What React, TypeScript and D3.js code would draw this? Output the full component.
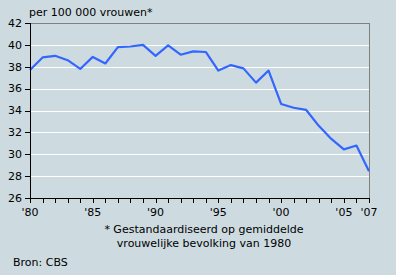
import React from "react";
import * as d3 from "d3";

const years = [1980,1981,1982,1983,1984,1985,1986,1987,1988,1989,1990,1991,1992,1993,1994,1995,1996,1997,1998,1999,2000,2001,2002,2003,2004,2005,2006,2007];
const values = [37.7,38.85,39.0,38.6,37.8,38.9,38.3,39.8,39.85,40.0,39.0,39.95,39.1,39.4,39.35,37.65,38.15,37.85,36.55,37.65,34.6,34.25,34.05,32.6,31.4,30.45,30.8,28.45];
const yTicks = [26,28,30,32,34,36,38,40,42];
const xLabelYears = [1980,1985,1990,1995,2000,2005,2007];
const xLabel = (y: number) => "'" + String(y).slice(2);
const title = "per 100 000 vrouwen*";
const footnote = ["* Gestandaardiseerd op gemiddelde", "vrouwelijke bevolking van 1980"];
const source = "Bron: CBS";

export default function App() {
  const W = 396, H = 275;
  const left = 30, right = 369, top = 23, bottom = 198;
  const x = d3.scaleLinear().domain([1980, 2007]).range([left, right]);
  const y = d3.scaleLinear().domain([26, 42]).range([bottom, top]);
  const line = d3.line<number>().x((_, i) => x(years[i])).y((d) => y(d));
  const font = "'DejaVu Sans', Verdana, sans-serif";
  const bg = "#cddbe0";
  return (
    <div style={{ position: "fixed", left: 0, top: 0 }}>
      <svg width={W} height={H} style={{ display: "block", background: bg }} fontFamily={font} fontSize={11}>
        <rect x={0} y={0} width={W} height={H} fill={bg} />
        {yTicks.filter(t => t > 26 && t < 42).map(t => (
          <line key={t} x1={left} x2={right} y1={Math.round(y(t)) + 0.5} y2={Math.round(y(t)) + 0.5} stroke="#ffffff" strokeWidth={1} />
        ))}
        <line x1={left} x2={right + 0.5} y1={top + 0.5} y2={top + 0.5} stroke="#808080" />
        <line x1={right + 0.5} x2={right + 0.5} y1={top} y2={bottom} stroke="#808080" />
        <path d={line(values) || ""} fill="none" stroke="#3366ff" strokeWidth={2.2} strokeLinejoin="round" />
        <line x1={left + 0.5} x2={left + 0.5} y1={top} y2={bottom + 0.5} stroke="#000" />
        <line x1={left} x2={right + 0.5} y1={bottom + 0.5} y2={bottom + 0.5} stroke="#000" />
        {yTicks.map(t => (
          <g key={t}>
            <line x1={left - 5} x2={left} y1={Math.round(y(t)) + 0.5} y2={Math.round(y(t)) + 0.5} stroke="#000" />
            <text x={left - 8} y={y(t)} dy="0.35em" textAnchor="end" fill="#000">{t}</text>
          </g>
        ))}
        {years.map(yr => (
          <line key={yr} x1={Math.round(x(yr)) + 0.5} x2={Math.round(x(yr)) + 0.5} y1={bottom} y2={bottom + 5} stroke="#000" />
        ))}
        {xLabelYears.map(yr => (
          <text key={yr} x={x(yr)} y={212} dy="0.35em" textAnchor="middle" fill="#000">{xLabel(yr)}</text>
        ))}
        <text x={29} y={12} dy="0.35em" fill="#000">{title}</text>
        {footnote.map((l, i) => (
          <text key={i} x={204} y={229 + i * 14} dy="0.35em" textAnchor="middle" fill="#000">{l}</text>
        ))}
        <text x={13} y={262} dy="0.35em" fill="#000">{source}</text>
      </svg>
    </div>
  );
}
